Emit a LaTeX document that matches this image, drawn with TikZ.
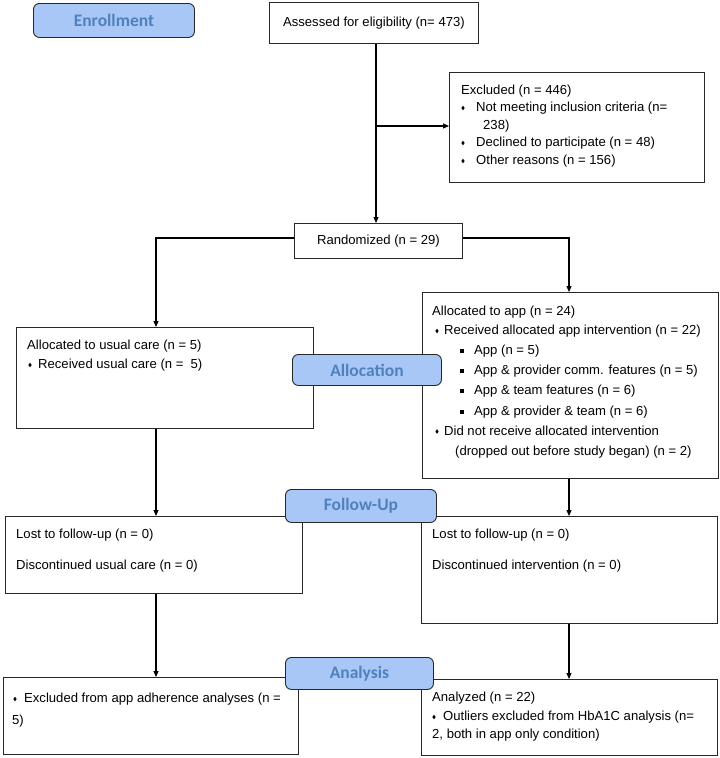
\documentclass[tikz,border=0pt]{standalone}
\usepackage{fontspec}
\setmainfont{Liberation Sans}
\newfontfamily\labfont{Carlito}
\usetikzlibrary{arrows.meta,shapes.geometric}
\definecolor{labfill}{RGB}{168,198,246}
\definecolor{labtext}{RGB}{79,129,189}
\definecolor{edge}{RGB}{40,40,40}
\begin{document}
\begin{tikzpicture}[x=1pt,y=-1pt,
 box/.style={draw=edge,line width=0.9pt,anchor=north west,inner sep=0pt,fill=white,font=\fontsize{13.1}{16}\selectfont},
 lab/.style={draw=edge,line width=0.9pt,fill=labfill,rounded corners=6pt,anchor=north west,inner sep=0pt,font=\labfont\bfseries\fontsize{17.5}{20}\selectfont,text=labtext},
 txt/.style={anchor=base west,inner sep=0pt,font=\fontsize{13.1}{16}\selectfont},
 dmd/.style={diamond,fill=black,inner sep=0pt,minimum width=3.4pt,minimum height=4.8pt},
 sqb/.style={rectangle,fill=black,inner sep=0pt,minimum size=4pt},
 arr/.style={line width=1.1pt,-{Triangle[length=6pt,width=5pt]}}]
\useasboundingbox (0,0) rectangle (720,758);

% boxes
\node[box,minimum width=209pt,minimum height=41pt] (assess) at (269,2) {Assessed for eligibility (n= 473)};
\node[box,minimum width=255pt,minimum height=110pt] (excl) at (449,72) {};
\node[box,minimum width=168pt,minimum height=35pt] (rand) at (294,223) {Randomized (n = 29)};
\node[box,minimum width=297pt,minimum height=101pt] (usual) at (16,327) {};
\node[box,minimum width=296pt,minimum height=186pt] (app) at (422,292) {};
\node[box,minimum width=297pt,minimum height=77pt] (fl) at (5,516) {};
\node[box,minimum width=296pt,minimum height=107pt] (fr) at (421,516) {};
\node[box,minimum width=295pt,minimum height=77pt] (al) at (3,677) {};
\node[box,minimum width=296pt,minimum height=76pt] (ar) at (421,679) {};

% column coordinates
\coordinate (cl) at (156,0);
\coordinate (cr) at (569,0);
\coordinate (cm) at (376,0);
\coordinate (hy) at (0,238);
\coordinate (br) at (376,126);

% connectors
\draw[arr] (assess.south -| cm) -- (rand.north -| cm);
\draw[arr] (br) -- (br -| excl.west);
\draw[arr] (rand.west |- hy) -| (usual.north -| cl);
\draw[arr] (rand.east |- hy) -| (app.north -| cr);
\draw[arr] (usual.south -| cl) -- (fl.north -| cl);
\draw[arr] (app.south -| cr) -- (fr.north -| cr);
\draw[arr] (fl.south -| cl) -- (al.north -| cl);
\draw[arr] (fr.south -| cr) -- (ar.north -| cr);

% excluded text
\node[txt] (e1) at (461,94.5) {Excluded (n = 446)};
\node[dmd] (e2b) at (463,108) {};
\node[txt] (e2) at (476,111.5) {Not meeting inclusion criteria (n=};
\node[txt] (e3) at (483,129.5) {238)};
\node[dmd] (e4b) at (463,143) {};
\node[txt] (e4) at (476,146.5) {Declined to participate (n = 48)};
\node[dmd] (e5b) at (463,161) {};
\node[txt] (e5) at (476,164.5) {Other reasons (n = 156)};

% usual care text
\node[txt] (u1) at (27,349.5) {Allocated to usual care (n = 5)};
\node[dmd] (u2b) at (30,365) {};
\node[txt] (u2) at (38,368.5) {Received usual care (n = \ 5)};

% app text
\node[txt] (a1) at (432,315.5) {Allocated to app (n = 24)};
\node[dmd] (a2b) at (437,331) {};
\node[txt] (a2) at (444,334.5) {Received allocated app intervention (n = 22)};
\node[sqb] (a3b) at (462,351) {};
\node[txt] (a3) at (474,354.5) {App (n = 5)};
\node[sqb] (a4b) at (462,371) {};
\node[txt] (a4) at (474,374.5) {App \& provider comm. features (n = 5)};
\node[sqb] (a5b) at (462,391) {};
\node[txt] (a5) at (474,394.5) {App \& team features (n = 6)};
\node[sqb] (a6b) at (462,411.5) {};
\node[txt] (a6) at (474,415) {App \& provider \& team (n = 6)};
\node[dmd] (a7b) at (437,431.5) {};
\node[txt] (a7) at (444,435) {Did not receive allocated intervention};
\node[txt] (a8) at (455,455) {(dropped out before study began) (n = 2)};

% follow-up text
\node[txt] (f1) at (16,538.5) {Lost to follow-up (n = 0)};
\node[txt] (f2) at (16,569.5) {Discontinued usual care (n = 0)};
\node[txt] (f3) at (432,538.5) {Lost to follow-up (n = 0)};
\node[txt] (f4) at (432,569.5) {Discontinued intervention (n = 0)};

% analysis text
\node[dmd] (n1b) at (15,699) {};
\node[txt] (n1) at (24,702.5) {Excluded from app adherence analyses (n =};
\node[txt] (n2) at (12,724) {5)};
\node[txt] (n3) at (432,701.5) {Analyzed (n = 22)};
\node[dmd] (n4b) at (434,717) {};
\node[txt] (n4) at (443,720.5) {Outliers excluded from HbA1C analysis (n=};
\node[txt] (n5) at (432,738.5) {2, both in app only condition)};

% stage labels
\node[lab,minimum width=161pt,minimum height=34pt] (enr) at (33,3) {Enrollment};
\node[lab,minimum width=149pt,minimum height=31pt] (alloc) at (292,354) {Allocation};
\node[lab,minimum width=151pt,minimum height=33pt] (fol) at (285,489) {Follow-Up};
\node[lab,minimum width=148pt,minimum height=32pt] (ana) at (285,657) {Analysis};
\end{tikzpicture}
\end{document}
